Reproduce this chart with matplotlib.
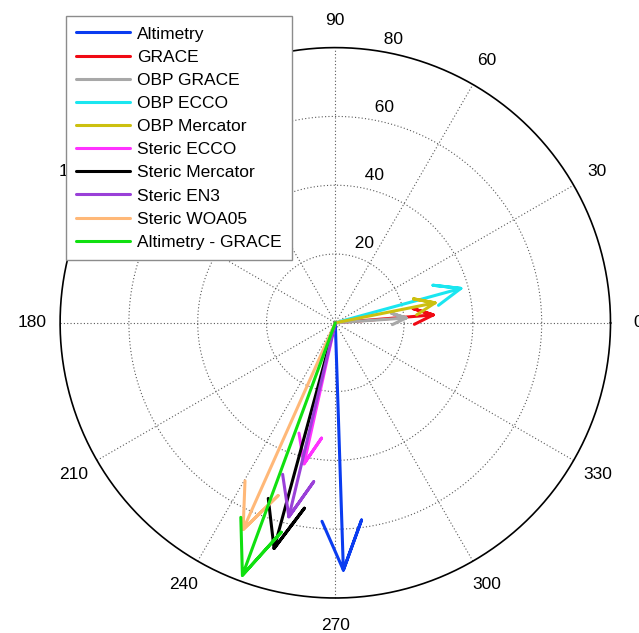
import numpy as np
import matplotlib.pyplot as plt

plt.rcParams['font.family'] = ['Liberation Sans', 'DejaVu Sans']

# vector components (east, north)
labels = ['Altimetry', 'GRACE', 'OBP GRACE', 'OBP ECCO', 'OBP Mercator',
          'Steric ECCO', 'Steric Mercator', 'Steric EN3', 'Steric WOA05',
          'Altimetry - GRACE']
east = [2.35, 28.5, 20.6, 36.5, 29.0, -9.1, -17.8, -13.5, -26.8, -27.0]
north = [-71.9, 2.3, 1.4, 10.0, 5.8, -41.0, -65.6, -56.4, -60.1, -73.4]
colors = ['#0a3cf0', '#f00a14', '#a8a8a8', '#1ae6f0', '#ccc010',
          '#ff33ff', '#000000', '#9a40d8', '#ffb878', '#10e010']

rings = [20, 40, 60]
rmax = 80
spoke_angles = np.arange(0, 180, 30)

# pixel geometry of the reference: centre and scale
W, H = 639, 633
cx, cy, ppu = 335.3, 322.8, 3.44

fig = plt.figure(figsize=(W / 100, H / 100), dpi=100)
ax = fig.add_axes([0, 0, 1, 1])
ax.set_xlim(-cx / ppu, (W - cx) / ppu)
ax.set_ylim(-(H - cy) / ppu, cy / ppu)
ax.axis('off')

th = np.linspace(0, 2 * np.pi, 400)
grid_kw = dict(color='0.35', ls=(0, (1, 2)), lw=0.8, zorder=1)
for r in rings:
    ax.plot(r * np.cos(th), r * np.sin(th), **grid_kw)
for a in np.deg2rad(spoke_angles):
    ax.plot([-rmax * np.cos(a), rmax * np.cos(a)],
            [-rmax * np.sin(a), rmax * np.sin(a)], **grid_kw)
ax.plot(rmax * np.cos(th), rmax * np.sin(th), color='k', lw=1.2, zorder=1)

# angle labels
for d in range(0, 360, 30):
    a = np.deg2rad(d)
    ax.text(1.1 * rmax * np.cos(a), 1.1 * rmax * np.sin(a), str(d),
            ha='center', va='center', fontsize=12.5)
# radius labels at 82 degrees
c82, s82 = np.cos(np.deg2rad(82)), np.sin(np.deg2rad(82))
for r in rings + [rmax]:
    ax.text((r + 1) * c82, (r + 1) * s82, '  ' + str(r),
            ha='left', va='bottom', fontsize=12.5)

# compass arrows: shaft plus head at 0.8*z +/- 0.08*i*z
for lab, u, v, c in zip(labels, east, north, colors):
    z = complex(u, v)
    pts = np.array([0, 1, 0.8 + 0.08j, 1, 0.8 - 0.08j]) * z
    ax.plot(pts.real, pts.imag, color=c, lw=2.2, label=lab, zorder=3,
            solid_capstyle='round', solid_joinstyle='round')

leg = ax.legend(loc='upper left', bbox_to_anchor=(66 / W, 1 - 16 / H),
                bbox_transform=fig.transFigure, borderaxespad=0,
                fontsize=12.5, fancybox=False, framealpha=1,
                edgecolor='0.55', handlelength=3.1, handletextpad=0.4,
                labelspacing=0.46, borderpad=0.6)
leg.get_frame().set_linewidth(1.0)
for ln in leg.get_lines():
    ln.set_linewidth(2.2)

fig.savefig('out.png', dpi=100)
